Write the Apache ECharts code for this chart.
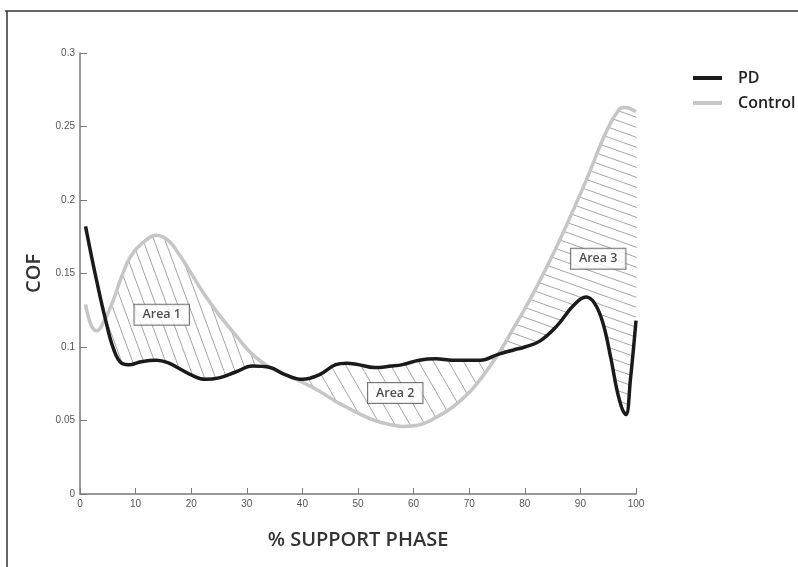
<!DOCTYPE html>
<html>
<head>
<meta charset="utf-8">
<script src="https://cdn.jsdelivr.net/npm/echarts@6/dist/echarts.min.js"></script>
<style>
html,body{margin:0;padding:0;background:#fff;}
#chart{width:798px;height:567px;}
</style>
</head>
<body>
<div id="chart"></div>
<script>
// % support phase sample points
const xs = [1, 2, 3, 4.5, 6, 7.5, 9, 11, 13.8, 16, 18, 20, 22.5, 25, 28, 31, 34.2, 37, 40, 43, 46, 48, 50, 53, 56, 58, 61, 64, 67, 70, 72, 75.2, 78, 80, 82.7, 85.7, 88.7, 91, 92.5, 94, 95.5, 96.5, 97.5, 98.2, 99, 100];
// PD (black) COF
const pd = [0.182, 0.163, 0.145, 0.120, 0.099, 0.089, 0.088, 0.090, 0.091, 0.089, 0.085, 0.081, 0.078, 0.079, 0.083, 0.087, 0.086, 0.081, 0.078, 0.081, 0.088, 0.089, 0.088, 0.086, 0.087, 0.088, 0.091, 0.092, 0.091, 0.091, 0.091, 0.095, 0.098, 0.100, 0.104, 0.114, 0.128, 0.134, 0.130, 0.117, 0.092, 0.072, 0.058, 0.054, 0.078, 0.118];
// Control (grey) COF
const ctrl = [0.129, 0.115, 0.111, 0.119, 0.132, 0.148, 0.161, 0.170, 0.176, 0.172, 0.162, 0.150, 0.135, 0.122, 0.108, 0.095, 0.086, 0.081, 0.076, 0.070, 0.063, 0.059, 0.055, 0.050, 0.047, 0.046, 0.047, 0.052, 0.059, 0.069, 0.078, 0.095, 0.113, 0.126, 0.145, 0.168, 0.193, 0.213, 0.227, 0.241, 0.253, 0.259, 0.263, 0.263, 0.262, 0.260];
// hatched areas: x-ranges between curve crossings
const areaNames = ['Area 1', 'Area 2', 'Area 3'];
const areaStart = [4.5, 34.2, 75.2];
const areaEnd = [34.2, 75.2, 100];
// label anchor points (data coords)
const areaLabelX = [14.7, 56.7, 93.2];
const areaLabelY = [0.122, 0.0687, 0.160];
const seriesNames = ['PD', 'Control'];

function hatch(w, h, color) {
  const c = document.createElement('canvas');
  c.width = w; c.height = h;
  const ctx = c.getContext('2d');
  ctx.strokeStyle = color; ctx.lineWidth = 1;
  [[0,0],[-w,0],[w,0],[0,-h],[0,h]].forEach(function(o){
    ctx.beginPath(); ctx.moveTo(o[0], o[1]); ctx.lineTo(o[0]+w, o[1]+h); ctx.stroke();
  });
  return c;
}
const patterns = [hatch(11, 30, '#a4a4a4'), hatch(15, 26, '#a4a4a4'), hatch(28, 10, '#a4a4a4')];

function renderArea(params, api) {
  const k = api.value(0);
  const upper = [], lower = [];
  for (let i = 0; i < xs.length; i++) {
    if (xs[i] >= areaStart[k] && xs[i] <= areaEnd[k]) {
      upper.push(api.coord([xs[i], Math.max(pd[i], ctrl[i])]));
      lower.push(api.coord([xs[i], Math.min(pd[i], ctrl[i])]));
    }
  }
  const pts = upper.concat(lower.reverse());
  return {
    type: 'polygon',
    shape: { points: pts, smooth: 0.3 },
    style: { fill: { image: patterns[k], repeat: 'repeat' }, stroke: null }
  };
}

const labelFont = "'Liberation Sans Narrow', 'Liberation Sans', sans-serif";
const boldFont = "'Open Sans', 'Noto Sans', sans-serif";

const chart = echarts.init(document.getElementById('chart'), null, { renderer: 'canvas' });
chart.setOption({
  animation: false,
  backgroundColor: '#ffffff',
  grid: { left: 80, top: 53, right: 162, bottom: 73 },
  legend: {
    data: seriesNames,
    orient: 'vertical', left: 688, top: 65,
    icon: 'rect', itemWidth: 29, itemHeight: 4, itemGap: 9,
    textStyle: { fontFamily: boldFont, fontSize: 16, fontWeight: 600, color: '#222', padding: [0, 0, 0, 11] }
  },
  xAxis: {
    type: 'value', min: 0, max: 100, interval: 10,
    name: '% SUPPORT PHASE', nameLocation: 'middle', nameGap: 36,
    nameTextStyle: { fontFamily: boldFont, fontSize: 20, fontWeight: 600, color: '#333' },
    axisLine: { lineStyle: { color: '#7a7a7a', width: 1.5 } },
    axisTick: { inside: true, length: 6, lineStyle: { color: '#7a7a7a', width: 1 } },
    axisLabel: { fontFamily: labelFont, fontSize: 10, color: '#555', margin: 5 },
    splitLine: { show: false }
  },
  yAxis: {
    type: 'value', min: 0, max: 0.3, interval: 0.05,
    name: 'COF', nameLocation: 'middle', nameGap: 32, nameRotate: 90,
    nameTextStyle: { fontFamily: boldFont, fontSize: 20, fontWeight: 600, color: '#333' },
    axisLine: { show: true, lineStyle: { color: '#7a7a7a', width: 1.5 } },
    axisTick: { show: true, inside: true, length: 7, lineStyle: { color: '#7a7a7a', width: 1 } },
    axisLabel: { fontFamily: labelFont, fontSize: 10, color: '#555', margin: 5 },
    splitLine: { show: false }
  },
  graphic: [
    { type: 'line', shape: { x1: 5, y1: 11, x2: 798, y2: 11 }, style: { stroke: '#333', lineWidth: 1.5 }, silent: true },
    { type: 'line', shape: { x1: 7, y1: 11, x2: 7, y2: 567 }, style: { stroke: '#333', lineWidth: 1.5 }, silent: true }
  ],
  series: [
    { type: 'custom', name: 'hatch', renderItem: renderArea, silent: true, z: 1,
      data: areaNames.map((n, k) => [k]) },
    { type: 'line', name: 'Control', data: xs.map((x, i) => [x, ctrl[i]]), smooth: 0.4, symbol: 'none',
      color: '#c6c6c6', lineStyle: { color: '#c6c6c6', width: 3.5 }, z: 3 },
    { type: 'line', name: 'PD', data: xs.map((x, i) => [x, pd[i]]), smooth: 0.4, symbol: 'none',
      color: '#1a1a1a', lineStyle: { color: '#1a1a1a', width: 3.5 }, z: 4 },
    { type: 'scatter', name: 'labels', symbolSize: 0, silent: true, z: 5,
      data: areaNames.map((n, k) => ({ value: [areaLabelX[k], areaLabelY[k]], name: n })),
      label: { show: true, position: 'inside', formatter: '{b}', fontFamily: boldFont, fontSize: 12.5, fontWeight: 600,
        color: '#222', backgroundColor: '#fff', borderColor: '#555', borderWidth: 1, padding: [4, 8, 3, 8] } }
  ]
});
</script>
</body>
</html>
